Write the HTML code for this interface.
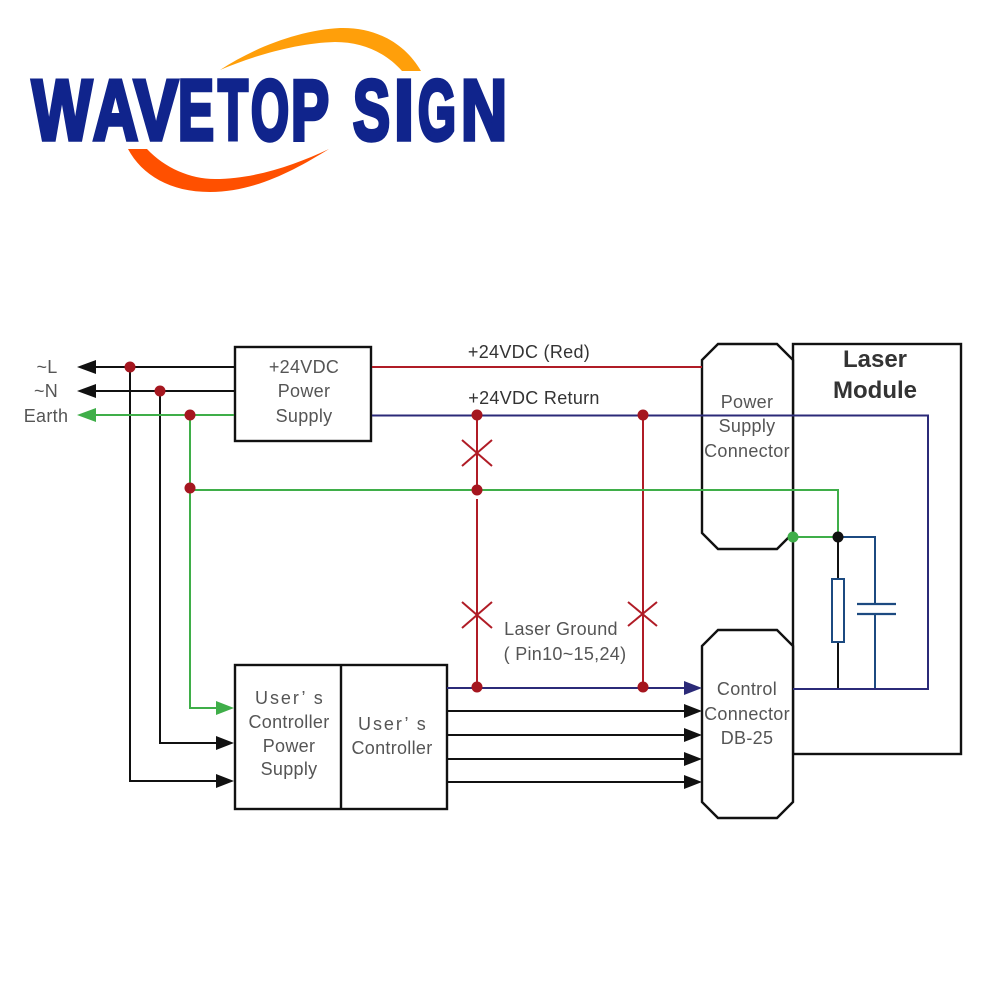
<!DOCTYPE html>
<html>
<head>
<meta charset="utf-8">
<style>
html,body{margin:0;padding:0;background:#fff;}
svg{display:block;}
text{font-family:"Liberation Sans",sans-serif;}
</style>
</head>
<body>
<svg width="1000" height="1000" viewBox="0 0 1000 1000" xmlns="http://www.w3.org/2000/svg">
<!-- Logo -->
<path d="M220 70 C255 47 300 30 340 28 C378 27 406 45 421 71 L402 71 C385 52 362 42 335 42 C298 43 255 55 220 70Z" fill="#ff9f0a"/>
<path d="M128 149 L147 149 C165 168 190 179 215 179 C255 179 295 165 329 149 C295 170 255 192 210 192 C170 192 142 175 128 149Z" fill="#ff5000"/>
<text y="139.5" font-size="85" font-weight="700" fill="#10248c" stroke="#10248c" stroke-width="4.5"><tspan x="32" textLength="60" lengthAdjust="spacingAndGlyphs">W</tspan><tspan x="93" textLength="45" lengthAdjust="spacingAndGlyphs">A</tspan><tspan x="134" textLength="44" lengthAdjust="spacingAndGlyphs">V</tspan><tspan x="178" textLength="36" lengthAdjust="spacingAndGlyphs">E</tspan><tspan x="218" textLength="30" lengthAdjust="spacingAndGlyphs">T</tspan><tspan x="251" textLength="38" lengthAdjust="spacingAndGlyphs">O</tspan><tspan x="291" textLength="38" lengthAdjust="spacingAndGlyphs">P</tspan></text>
<text y="139.5" font-size="85" font-weight="700" fill="#10248c" stroke="#10248c" stroke-width="4.5"><tspan x="353" textLength="37" lengthAdjust="spacingAndGlyphs">S</tspan><tspan x="394" textLength="20" lengthAdjust="spacingAndGlyphs">I</tspan><tspan x="418" textLength="38" lengthAdjust="spacingAndGlyphs">G</tspan><tspan x="461" textLength="46" lengthAdjust="spacingAndGlyphs">N</tspan></text>

<!-- Boxes -->
<g fill="#fff" stroke="#111" stroke-width="2.4">
<rect x="793" y="344" width="168" height="410"/>
<path d="M718 344H777L793 360V533L777 549H718L702 533V360Z"/>
<path d="M718 630H777L793 646V802L777 818H718L702 802V646Z"/>
<rect x="235" y="347" width="136" height="94"/>
<rect x="235" y="665" width="212" height="144"/>
<path d="M341 665V809"/>
</g>

<!-- Black wires -->
<g fill="none" stroke="#111" stroke-width="2">
<path d="M234 367H92"/><path d="M234 391H92"/>
<path d="M130 367V781H218"/><path d="M160 391V743H218"/>
<path d="M447 711H686M447 735H686M447 759H686M447 782H686"/>
<path d="M838 537V580M838 642V689"/>
</g>
<!-- Red -->
<g fill="none" stroke="#b01c26" stroke-width="2">
<path d="M372 367H702"/>
<path d="M477 415V489M477 499V688M643 415V688"/>
<path d="M462 440L492 466M492 440L462 466M462 602L492 628M492 602L462 628M628 602L657 626M657 602L628 626"/>
</g>
<!-- Navy -->
<g fill="none" stroke="#2b2a78" stroke-width="2">
<path d="M372 415.5H928V689H793"/>
<path d="M447 688H686"/>
</g>
<!-- Green -->
<g fill="none" stroke="#3fae49" stroke-width="2">
<path d="M234 415H94"/><path d="M190 415V708H218"/>
<path d="M190 490H838V537"/><path d="M793 537H838"/>
</g>
<!-- Capacitor/resistor -->
<g fill="none" stroke="#1c4a80" stroke-width="2">
<path d="M838 537H875V604M875 614V689"/>
<path d="M857 604H896M857 614H896" stroke-width="2.2"/>
<rect x="832" y="579" width="12" height="63" fill="#fff"/>
</g>
<path d="M793 689H928" fill="none" stroke="#2b2a78" stroke-width="2"/>

<!-- Arrowheads -->
<path d="M77 367L96 360V374Z" fill="#111"/>
<path d="M77 391L96 384V398Z" fill="#111"/>
<path d="M77 415L96 408V422Z" fill="#3fae49"/>
<path d="M234 708L216 701V715Z" fill="#3fae49"/>
<path d="M234 743L216 736V750Z" fill="#111"/>
<path d="M234 781L216 774V788Z" fill="#111"/>
<path d="M702 688L684 681V695Z" fill="#2b2a78"/>
<path d="M702 711L684 704V718Z" fill="#111"/>
<path d="M702 735L684 728V742Z" fill="#111"/>
<path d="M702 759L684 752V766Z" fill="#111"/>
<path d="M702 782L684 775V789Z" fill="#111"/>
<!-- Dots -->
<g fill="#a5161f">
<circle cx="130" cy="367" r="5.5"/><circle cx="160" cy="391" r="5.5"/><circle cx="190" cy="415" r="5.5"/>
<circle cx="190" cy="488" r="5.5"/><circle cx="477" cy="415" r="5.5"/><circle cx="477" cy="490" r="5.5"/>
<circle cx="643" cy="415" r="5.5"/><circle cx="477" cy="687" r="5.5"/><circle cx="643" cy="687" r="5.5"/>
</g>
<circle cx="793" cy="537" r="5.5" fill="#3fae49"/>
<circle cx="838" cy="537" r="5.5" fill="#111"/>
<!-- Labels -->
<g font-size="18" fill="#555" text-anchor="middle" letter-spacing=".3">
<text x="47" y="373">~L</text><text x="46" y="397">~N</text><text x="46" y="422">Earth</text>
<text x="304" y="373">+24VDC</text><text x="304" y="397">Power</text><text x="304" y="422">Supply</text>
<text x="529" y="358" fill="#333">+24VDC (Red)</text>
<text x="534" y="404" fill="#333">+24VDC Return</text>
<text x="747" y="408">Power</text><text x="747" y="432">Supply</text><text x="747" y="457">Connector</text>
<text x="561" y="635">Laser Ground</text>
<text x="565" y="660">( Pin10~15,24)</text>
<text x="747" y="695">Control</text><text x="747" y="720">Connector</text><text x="747" y="744">DB-25</text>
<text x="289" y="704" textLength="68" lengthAdjust="spacing">User’ s</text><text x="289" y="728">Controller</text><text x="289" y="752">Power</text><text x="289" y="775">Supply</text>
<text x="392" y="730" textLength="68" lengthAdjust="spacing">User’ s</text><text x="392" y="754">Controller</text>
</g>
<g font-size="24" font-weight="700" fill="#333" text-anchor="middle">
<text x="875" y="367">Laser</text><text x="875" y="398">Module</text>
</g>
</svg>
</body>
</html>
